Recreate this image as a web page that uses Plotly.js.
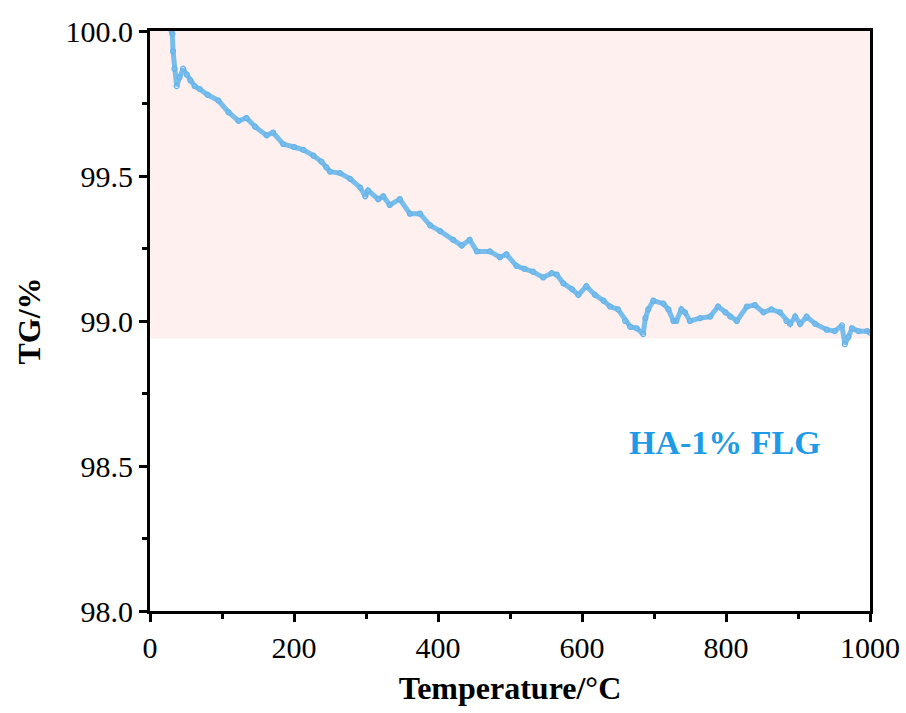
<!DOCTYPE html>
<html>
<head>
<meta charset="utf-8">
<script src="https://cdn.plot.ly/plotly-3.0.1.min.js"></script>
<style>html,body{margin:0;padding:0;background:#fff;}#chart{width:906px;height:713px;}</style>
</head>
<body>
<div id="chart"></div>
<script>
// Temperature (°C)
const temperature = [30, 31, 32, 34, 37, 41, 46, 51, 56, 62, 69, 80, 95, 109, 123, 134, 146, 162, 171, 185, 200, 213, 227, 238, 245, 250, 264, 278, 292, 299, 303, 317, 324, 333, 347, 361, 375, 389, 403, 421, 433, 444, 454, 472, 486, 495, 509, 520, 532, 546, 558, 565, 574, 586, 595, 606, 618, 630, 639, 650, 660, 667, 676, 685, 688, 692, 699, 713, 720, 727, 731, 738, 743, 750, 764, 778, 789, 799, 806, 815, 829, 840, 852, 863, 875, 884, 889, 896, 903, 912, 924, 940, 951, 961, 965, 970, 975, 984, 996, 1000];
// TG (%)
const tg = [100.0, 99.99, 99.93, 99.87, 99.81, 99.84, 99.87, 99.85, 99.83, 99.81, 99.80, 99.78, 99.76, 99.72, 99.69, 99.70, 99.67, 99.64, 99.65, 99.61, 99.60, 99.59, 99.57, 99.55, 99.53, 99.515, 99.51, 99.49, 99.46, 99.43, 99.45, 99.42, 99.43, 99.40, 99.42, 99.37, 99.37, 99.33, 99.31, 99.28, 99.26, 99.28, 99.24, 99.24, 99.22, 99.23, 99.19, 99.18, 99.17, 99.15, 99.165, 99.16, 99.13, 99.11, 99.09, 99.12, 99.09, 99.07, 99.05, 99.04, 99.00, 98.98, 98.975, 98.955, 99.01, 99.04, 99.07, 99.06, 99.04, 99.00, 99.00, 99.04, 99.03, 99.00, 99.01, 99.015, 99.05, 99.03, 99.015, 99.00, 99.05, 99.055, 99.03, 99.04, 99.03, 99.00, 98.99, 99.015, 98.99, 99.015, 98.99, 98.97, 98.965, 98.985, 98.92, 98.945, 98.975, 98.965, 98.965, 98.96];
const seriesName = "HA-1% FLG";
const xTicks = [0, 200, 400, 600, 800, 1000];
const yTicks = [98.0, 98.5, 99.0, 99.5, 100.0];
const bandRange = [98.94, 100.0];

const serif = "Liberation Serif";

const trace = {
  x: temperature, y: tg, mode: 'lines+markers', name: seriesName,
  line: {color: '#78bdeb', width: 5, shape: 'linear'},
  marker: {color: 'rgba(0,0,0,0)', size: 5, line: {color: '#66b3e8', width: 1.2}},
  showlegend: false, hoverinfo: 'skip'
};

function axisBase() {
  return {
    showgrid: false, zeroline: false, showline: true, linecolor: '#000', linewidth: 3,
    mirror: true, ticks: 'outside', ticklen: 8, tickwidth: 3, tickcolor: '#000',
    tickfont: {family: serif, size: 30, color: '#000', weight: 'normal'}
  };
}

const layout = {
  width: 906, height: 713,
  font: {family: serif, size: 30, color: '#000'},
  margin: {l: 150, r: 36, t: 31, b: 102},
  paper_bgcolor: '#fff', plot_bgcolor: '#fff',
  xaxis: Object.assign(axisBase(), {
    range: [0, 1000], tickvals: xTicks, ticktext: xTicks.map(String),
    minor: {dtick: 100, tick0: 0, ticks: 'outside', ticklen: 5, tickwidth: 3, tickcolor: '#000'},
    title: {text: 'Temperature/°C', font: {family: serif, size: 32, color: '#000', weight: 'bold'}, standoff: 14}
  }),
  yaxis: Object.assign(axisBase(), {
    range: [98.0, 100.0], tickvals: yTicks, ticktext: yTicks.map(v => v.toFixed(1)),
    minor: {dtick: 0.25, tick0: 98.0, ticks: 'outside', ticklen: 5, tickwidth: 3, tickcolor: '#000'},
    title: {text: 'TG/%', font: {family: serif, size: 32, color: '#000', weight: 'bold'}, standoff: 16}
  }),
  shapes: [{
    type: 'rect', xref: 'paper', x0: 0, x1: 1, yref: 'y', y0: bandRange[0], y1: bandRange[1],
    fillcolor: '#fdf0ef', line: {width: 0}, layer: 'below'
  }],
  annotations: [{
    x: 798, y: 98.58, xref: 'x', yref: 'y', text: '<b>' + seriesName + '</b>', showarrow: false,
    font: {family: serif, size: 34, color: '#1e9be6'}
  }]
};

Plotly.newPlot('chart', [trace], layout, {displayModeBar: false, staticPlot: true});
</script>
</body>
</html>
